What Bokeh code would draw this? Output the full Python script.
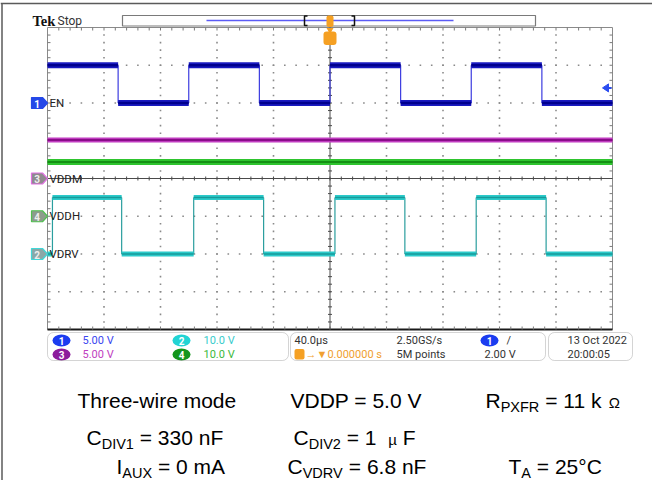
import math
from bokeh.plotting import figure
from bokeh.models import Range1d, BoxAnnotation
from bokeh.core.properties import value
from bokeh.embed import file_html
from bokeh.resources import INLINE

# ---------------- data ----------------
time_per_div_us = 40.0
h_divs = 10
v_divs = 8
trigger_time_us = 0.0

channel_names = ["EN", "VDRV", "VDDM", "VDDH"]
channel_numbers = ["1", "2", "3", "4"]
volts_per_div = [5.0, 10.0, 5.0, 10.0]
ground_div = [6.0, 2.0, 4.0, 3.0]          # ground marker, divisions above bottom

en_times_us = [-200, -150, -100, -50, 0, 50, 100, 150, 200]
en_volts = [5.0, 0.0, 5.0, 0.0, 5.0, 0.0, 5.0, 0.0]
vdrv_times_us = [-200, -196.5, -147.5, -96.5, -47, 3.5, 53, 103.5, 153, 200]
vdrv_volts = [0.0, 15.0, 0.0, 15.0, 0.0, 15.0, 0.0, 15.0, 0.0]
vddm_times_us = [-200, 200]
vddm_volts = [5.1]
vddh_times_us = [-200, 200]
vddh_volts = [14.4]

trigger_channel = 0
trigger_level_v = 2.00

scale_labels = ["5.00 V", "10.0 V", "5.00 V", "10.0 V"]
timebase_label = "40.0µs"
trigger_delay_label = "→▼0.000000 s"
sample_rate_label = "2.50GS/s"
record_length_label = "5M points"
trigger_level_label = "2.00 V"
date_label = "13 Oct  2022"
time_label = "20:00:05"

cond_rows = [
    [[("Three-wire mode", "n")],
     [("VDDP = 5.0 V", "n")],
     [("R", "n"), ("PXFR", "sub"), (" = 11 k ", "n"), ("Ω", "small")]],
    [[("C", "n"), ("DIV1", "sub"), (" = 330 nF", "n")],
     [("C", "n"), ("DIV2", "sub"), (" = 1  ", "n"), ("µ", "small"), (" F", "n")],
     []],
    [[("I", "n"), ("AUX", "sub"), (" = 0 mA", "n")],
     [("C", "n"), ("VDRV", "sub"), (" = 6.8 nF", "n")],
     [("T", "n"), ("A", "sub"), (" = 25°C", "n")]],
]

# ---------------- layout ----------------
W, H = 652, 480
OX, OY = 0, 0
GL, GR, GT, GB = 47.0, 612.0, 27.0, 329.0
sx = (GR - GL) / (h_divs * time_per_div_us)
sy = (GB - GT) / v_divs
t0 = trigger_time_us - h_divs / 2 * time_per_div_us
t1 = t0 + h_divs * time_per_div_us
tc = t0 + h_divs / 2 * time_per_div_us
yc_mid = v_divs / 2


def X(px):
    return t0 + (px - GL) / sx


def Y(py):
    return (GB - py) / sy


def dX(px):
    return px / sx


def dY(py):
    return py / sy


def PX(t):
    return GL + (t - t0) * sx


def PY(d):
    return GB - d * sy


p = figure(width=W, height=H,
           x_range=Range1d(X(OX), X(OX + W)), y_range=Range1d(Y(OY + H), Y(OY)),
           output_backend="svg", toolbar_location=None,
           x_axis_location=None, y_axis_location=None, min_border=0,
           outline_line_color=None, background_fill_color="white",
           border_fill_color="white")
p.grid.visible = False


def T(px, py, s, color="#333333", size="11px", font="Roboto", style="normal",
      align="left", baseline="middle"):
    p.text(x=[X(px)], y=[Y(py)], text=[s], text_color=color,
           text_font=value(font), text_font_size=size, text_font_style=style,
           text_align=align, text_baseline=baseline)


# outer frame of the screenshot
p.segment(x0=[X(0), X(1.5)], y0=[Y(3), Y(3)], x1=[X(652), X(1.5)], y1=[Y(3), Y(481)],
          line_color="#5a5a5a", line_width=1.5)

# ---------------- graticule ----------------
minor_x = [t0 + k * time_per_div_us / 5 for k in range(h_divs * 5 + 1)]
minor_y = [k / 5 for k in range(v_divs * 5 + 1)]
major_x = [t0 + i * time_per_div_us for i in range(1, h_divs) if i != h_divs // 2]
major_y = [float(i) for i in range(1, v_divs) if i != v_divs // 2]

dots_x, dots_y = [], []
for mx in major_x:
    for my in minor_y[1:-1]:
        dots_x.append(mx)
        dots_y.append(my)
for my in major_y:
    for mx in minor_x[1:-1]:
        dots_x.append(mx)
        dots_y.append(my)
p.scatter(dots_x, dots_y, marker="square", size=1.6, fill_color="#8a8a8a",
          line_color=None)

p.quad(left=[t0], right=[t1], bottom=[0], top=[v_divs], fill_color=None,
       line_color="#8a8a8a", line_width=1)
p.segment(x0=[t0], y0=[0], x1=[t1], y1=[0], line_color="#1a1a1a", line_width=2)

ix = minor_x[1:-1]
iy = minor_y[1:-1]
tick_col = "#7a7a7a"
p.segment(x0=ix, y0=[v_divs] * len(ix), x1=ix, y1=[v_divs - dY(3)] * len(ix),
          line_color=tick_col, line_width=1)
p.segment(x0=ix, y0=[0] * len(ix), x1=ix, y1=[dY(3)] * len(ix),
          line_color=tick_col, line_width=1)
p.segment(x0=[t0] * len(iy), y0=iy, x1=[t0 + dX(3)] * len(iy), y1=iy,
          line_color=tick_col, line_width=1)
p.segment(x0=[t1] * len(iy), y0=iy, x1=[t1 - dX(3)] * len(iy), y1=iy,
          line_color=tick_col, line_width=1)

# centre cross with ticks
p.segment(x0=[tc, t0], y0=[0, yc_mid], x1=[tc, t1], y1=[v_divs, yc_mid],
          line_color="#4a4a4a", line_width=1)
p.segment(x0=[tc - dX(2)] * len(iy), y0=iy, x1=[tc + dX(2)] * len(iy), y1=iy,
          line_color="#4a4a4a", line_width=1)
p.segment(x0=ix, y0=[yc_mid - dY(2)] * len(ix), x1=ix, y1=[yc_mid + dY(2)] * len(ix),
          line_color="#4a4a4a", line_width=1)


# ---------------- traces ----------------
def draw_trace(times, volts, ch, band, core, band_w, core_w, edge):
    g = ground_div[ch]
    s = volts_per_div[ch]
    ys = [g + v / s for v in volts]
    if len(times) > 2:
        p.segment(x0=times[1:-1], y0=ys[:-1], x1=times[1:-1], y1=ys[1:],
                  line_color=edge, line_width=1.2)
    p.segment(x0=times[:-1], y0=ys, x1=times[1:], y1=ys,
              line_color=band, line_width=band_w)
    p.segment(x0=times[:-1], y0=ys, x1=times[1:], y1=ys,
              line_color=core, line_width=core_w)


draw_trace(vddm_times_us, vddm_volts, 2, "#c03cc0", "#8a0c8a", 5, 2, "#b020b0")
draw_trace(vddh_times_us, vddh_volts, 3, "#2ec42e", "#149014", 6, 2, "#22b822")
draw_trace(vdrv_times_us, vdrv_volts, 1, "#2ccaca", "#179a9a", 5, 1.5, "#2a9e9e")
draw_trace(en_times_us, en_volts, 0, "#1a1ac0", "#00008e", 6, 2.5, "#3c3ce0")

# ---------------- channel ground markers ----------------
mk_fill = ["#2448e8", "#8aa8a8", "#8e8a8e", "#8c9c8c"]
mk_line = ["#2448e8", "#40d8d8", "#e070e0", "#50c050"]
mk_text = ["white", "#eeeeee", "#eeeeee", "#eeeeee"]
for i in range(4):
    yc = ground_div[i]
    xs = [X(31), X(42), X(47), X(42), X(31)]
    ys = [yc + dY(5.5), yc + dY(5.5), yc, yc - dY(5.5), yc - dY(5.5)]
    p.patches(xs=[xs], ys=[ys], fill_color=mk_fill[i], line_color=mk_line[i],
              line_width=1.2)
    T(36.5, PY(yc) + 0.5, channel_numbers[i], color=mk_text[i], size="10px",
      style="bold", align="center")
    T(49, PY(yc), channel_names[i], color="#222222", size="11.5px")

# trigger level arrow (right edge)
ty = ground_div[trigger_channel] + trigger_level_v / volts_per_div[trigger_channel]
p.patches(xs=[[X(602), X(608), X(608)]], ys=[[ty, ty + dY(4), ty - dY(4)]],
          fill_color="#2a4cf0", line_color="#2a4cf0")
p.segment(x0=[X(607)], y0=[ty], x1=[X(611)], y1=[ty], line_color="#2a4cf0",
          line_width=2)

# ---------------- top bar ----------------
T(32, 20.5, "Tek", color="#111111", size="14.5px", font="Liberation Serif",
  style="bold")
T(57, 20.5, "Stop", color="#333333", size="12px")

p.quad(left=[X(122)], right=[X(535)], top=[Y(15)], bottom=[Y(25.5)],
       fill_color="white", line_color="#7a7a7a", line_width=1.2)
p.segment(x0=[X(206)], y0=[Y(20)], x1=[X(453)], y1=[Y(20)],
          line_color="#5b5bf5", line_width=1.3)
p.multi_line(xs=[[X(307), X(304), X(304), X(307)], [X(351), X(354), X(354), X(351)]],
             ys=[[Y(15.5), Y(15.5), Y(25), Y(25)], [Y(15.5), Y(15.5), Y(25), Y(25)]],
             line_color="#111111", line_width=1.5)

trig_px = PX(trigger_time_us)
orange = "#f5a023"
p.add_layout(BoxAnnotation(left=X(trig_px - 3.5), right=X(trig_px + 3.5),
                           top=Y(15), bottom=Y(26.5), fill_color=orange,
                           fill_alpha=1, line_color=None, border_radius=2))
p.scatter([tc], [Y(29.5)], marker="inverted_triangle", size=7,
          fill_color=orange, line_color=None)
p.add_layout(BoxAnnotation(left=X(trig_px - 6.5), right=X(trig_px + 6.5),
                           top=Y(31), bottom=Y(44.5), fill_color=orange,
                           fill_alpha=1, line_color=None, border_radius=3))
T(trig_px, 38, "T", color="white", size="10px", style="bold", align="center")

# ---------------- info panel ----------------
for l, r in [(47, 288), (290, 545), (548, 632)]:
    p.add_layout(BoxAnnotation(left=X(l), right=X(r), top=Y(332), bottom=Y(360),
                               fill_color=None, fill_alpha=0, line_color="#6f6f6f",
                               line_width=1, border_radius=6))


def badge(cx, cy, num, col):
    p.ellipse(x=[X(cx)], y=[Y(cy)], width=18, height=12, width_units="screen",
              height_units="screen", fill_color=col, line_color=None)
    T(cx, cy + 0.5, num, color="white", size="10px", style="bold", align="center")


badge_cols = ["#1b3cf0", "#22d4d4", "#8c1c9c", "#14961c"]
text_cols = ["#3a46f0", "#38cccc", "#c040c0", "#3cb83c"]
pos = {0: (61, 82, 340), 1: (181, 203, 340), 2: (61, 82, 354), 3: (181, 203, 354)}
for i in range(4):
    bx, tx, ty_ = pos[i]
    badge(bx, ty_, channel_numbers[i], badge_cols[i])
    T(tx, ty_, scale_labels[i], color=text_cols[i])

T(294, 340, timebase_label)
p.add_layout(BoxAnnotation(left=X(294), right=X(304), top=Y(348.5), bottom=Y(359),
                           fill_color=orange, fill_alpha=1, line_color=None,
                           border_radius=2))
T(299, 354, "T", color="white", size="9px", style="bold", align="center")
T(305, 354, trigger_delay_label, color="#f0a030")
T(396, 340, sample_rate_label)
T(396, 354, record_length_label)
badge(489, 340, channel_numbers[trigger_channel], badge_cols[trigger_channel])
T(506, 340, "/", color="#333333")
T(484, 354, trigger_level_label)
T(567, 340, date_label)
T(567, 354, time_label)

# ---------------- test conditions ----------------
ARIAL = {" ": .278, "=": .584, ".": .278, "°": .4, "µ": .576, "Ω": .768,
         "A": .667, "C": .722, "D": .722, "F": .611, "I": .278, "P": .667,
         "R": .722, "T": .611, "U": .722, "V": .667, "X": .667, "k": .5,
         "m": .833, "n": .556, "-": .333}
SIZES = {"n": 21.0, "sub": 14.5, "small": 15.0}
YOFF = {"n": 0.0, "sub": 6.5, "small": 2.0}


def width(s, size):
    return sum(ARIAL.get(c, .556) for c in s) * size


cond_x = [[77, 290, 485], [86, 293, 0], [116, 287, 508]]
cond_mid = [400, 437, 466]
for r, row in enumerate(cond_rows):
    for c, parts in enumerate(row):
        x = cond_x[r][c]
        for s, kind in parts:
            size = SIZES[kind]
            yb = cond_mid[r] + YOFF[kind]
            lead = len(s) - len(s.lstrip(" "))
            x += width(" " * lead, size)
            core = s.strip(" ")
            T(x, yb, core, color="#000000", size=f"{size}px", font="Liberation Sans")
            x += width(s[lead:], size)

open("out.html", "w").write(file_html(p, INLINE))
